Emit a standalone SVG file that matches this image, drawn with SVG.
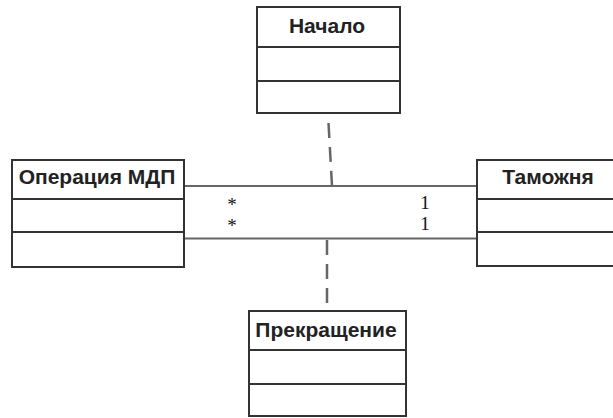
<svg xmlns="http://www.w3.org/2000/svg" width="613" height="418" viewBox="0 0 613 418">
<style>
.box{fill:#fff;stroke:#333;stroke-width:2}
.div{stroke:#333;stroke-width:2}
.t{font-family:"Liberation Sans",Arial,sans-serif;font-weight:bold;font-size:21px;fill:#222;text-anchor:middle}
.c{stroke:#666;stroke-width:2;fill:none}
.d{stroke:#666;stroke-width:2.5;fill:none;stroke-dasharray:15 9}
.m{font-family:"Liberation Serif","Times New Roman",serif;font-size:19px;fill:#111;text-anchor:middle}
</style>
<rect width="613" height="418" fill="#fff"/>
<g id="connectors">
<line class="c" x1="184" y1="186" x2="477" y2="186"/>
<line class="c" x1="184" y1="238.5" x2="477" y2="238.5"/>
<line class="d" x1="328.5" y1="123" x2="332" y2="186"/>
<line class="d" x1="327" y1="240" x2="327" y2="304"/>
<text class="m" x="232" y="211">*</text>
<text class="m" x="232" y="232">*</text>
<text class="m" x="425" y="209">1</text>
<text class="m" x="425" y="230">1</text>
</g>
<g id="nachalo">
<rect class="box" x="257" y="7" width="143" height="106"/>
<line class="div" x1="257" y1="47" x2="400" y2="47"/>
<line class="div" x1="257" y1="81" x2="400" y2="81"/>
<text class="t" x="327" y="33">Начало</text>
</g>
<g id="operaciya">
<rect class="box" x="12" y="160" width="172" height="107"/>
<line class="div" x1="12" y1="199" x2="184" y2="199"/>
<line class="div" x1="12" y1="232" x2="184" y2="232"/>
<text class="t" x="97" y="184">Операция МДП</text>
</g>
<g id="tamozhnya">
<rect class="box" x="477" y="160" width="150" height="106"/>
<line class="div" x1="477" y1="199" x2="627" y2="199"/>
<line class="div" x1="477" y1="232" x2="627" y2="232"/>
<text class="t" x="548" y="184">Таможня</text>
</g>
<g id="prekrashchenie">
<rect class="box" x="249" y="311" width="157" height="105"/>
<line class="div" x1="249" y1="350" x2="406" y2="350"/>
<line class="div" x1="249" y1="384" x2="406" y2="384"/>
<text class="t" x="326" y="337">Прекращение</text>
</g>
</svg>
